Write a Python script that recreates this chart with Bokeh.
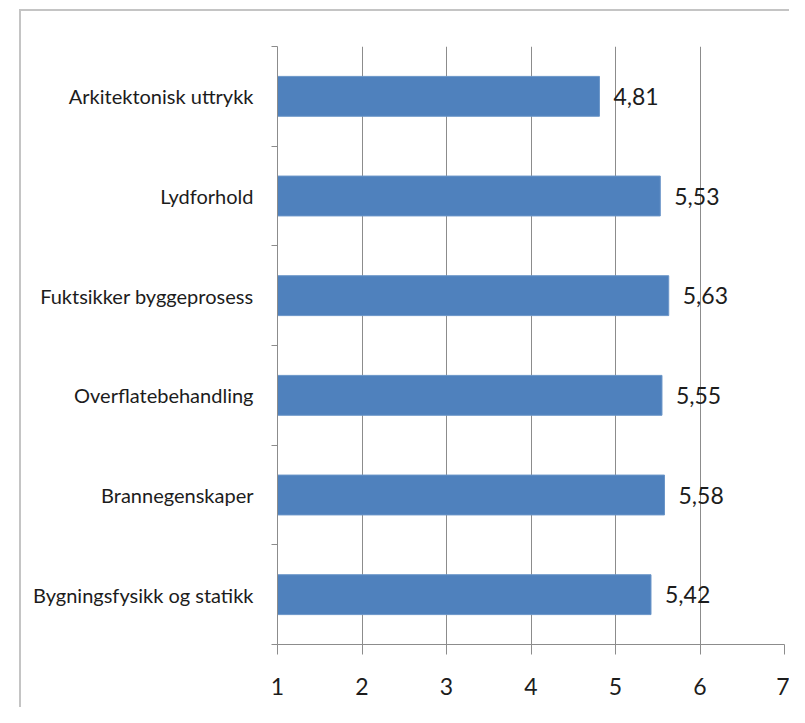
from bokeh.plotting import figure
from bokeh.models import ColumnDataSource, FixedTicker, Range1d, LabelSet
from bokeh.core.properties import value
from bokeh.embed import file_html
from bokeh.resources import INLINE

# Data (top to bottom as shown)
categories = ["Arkitektonisk uttrykk", "Lydforhold", "Fuktsikker byggeprosess",
              "Overflatebehandling", "Brannegenskaper", "Bygningsfysikk og statikk"]
values = [4.81, 5.53, 5.63, 5.55, 5.58, 5.42]
x_ticks = [1, 2, 3, 4, 5, 6, 7]

n = len(categories)
ypos = [n - i - 0.5 for i in range(n)]
labels = [f"{v:.2f}".replace(".", ",") for v in values]

src = ColumnDataSource(dict(cat=categories, y=ypos, v=values, lab=labels))

FONT = "Lato"
TXT = "#1c1c1c"
GRID = "#8c8c8c"

p = figure(width=770, height=698, output_backend="svg", toolbar_location=None,
           x_range=Range1d(1, 7), y_range=Range1d(0, n),
           min_border_left=256, min_border_right=7, min_border_top=35, min_border_bottom=65)
p.margin = (9, 0, 0, 19)
p.styles = {"border-top": "2px solid #c4c4c4", "border-left": "2px solid #c4c4c4"}
p.outline_line_color = None
p.background_fill_color = "white"
p.border_fill_color = "white"

p.hbar(y="y", right="v", left=1, height=0.4, source=src,
       fill_color="#4F81BD", line_color="#6a95c8", line_width=1)

p.add_layout(LabelSet(x="v", y="y", text="lab", source=src, x_offset=14,
                      text_align="left", text_baseline="middle",
                      text_font=value(FONT), text_font_size=value("23px"),
                      text_color=value(TXT)))

# x axis
p.xaxis.ticker = FixedTicker(ticks=x_ticks)
p.xaxis.major_tick_out = 10
p.xaxis.major_tick_in = 0
p.xaxis.minor_tick_line_color = None
p.xaxis.axis_line_color = GRID
p.xaxis.major_tick_line_color = GRID
p.xaxis.major_label_text_font = FONT
p.xaxis.major_label_text_font_size = "23px"
p.xaxis.major_label_text_color = TXT
p.xaxis.major_label_standoff = 23

# y axis: labels at centers, ticks at boundaries
p.yaxis.ticker = FixedTicker(ticks=ypos, minor_ticks=list(range(n + 1)))
p.yaxis.major_label_overrides = {y: c for y, c in zip(ypos, categories)}
p.yaxis.major_tick_line_color = None
p.yaxis.major_tick_out = 0
p.yaxis.major_tick_in = 0
p.yaxis.minor_tick_out = 6
p.yaxis.minor_tick_in = 0
p.yaxis.minor_tick_line_color = GRID
p.yaxis.axis_line_color = GRID
p.yaxis.major_label_text_font = FONT
p.yaxis.major_label_text_font_size = "20px"
p.yaxis.major_label_text_color = TXT
p.yaxis.major_label_standoff = 18

p.xgrid.ticker = FixedTicker(ticks=x_ticks)
p.xgrid.grid_line_color = GRID
p.xgrid.grid_line_width = 1
p.ygrid.grid_line_color = None

open("out.html", "w").write(file_html(p, INLINE))
